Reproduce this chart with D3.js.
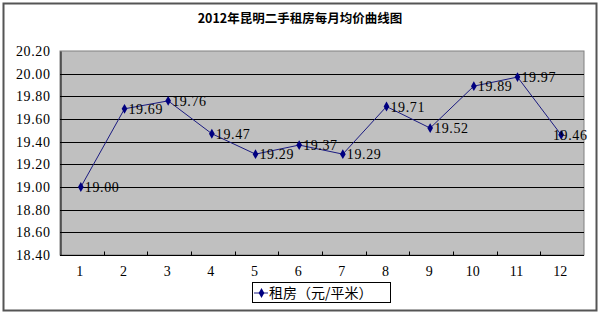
<!DOCTYPE html>
<html><head><meta charset="utf-8">
<script src="https://cdn.jsdelivr.net/npm/d3@7"></script>
<style>body{margin:0;background:#fff}svg{display:block}</style>
</head><body>
<svg id="c" width="600" height="312"></svg>
<script>
const title = "2012年昆明二手租房每月均价曲线图";
const seriesName = "租房（元/平米）";
const months = ["1","2","3","4","5","6","7","8","9","10","11","12"];
const rent = [19.00, 19.69, 19.76, 19.47, 19.29, 19.37, 19.29, 19.71, 19.52, 19.89, 19.97, 19.46];
const yTicks = [18.40, 18.60, 18.80, 19.00, 19.20, 19.40, 19.60, 19.80, 20.00, 20.20];

const svg = d3.select("#c");
const P = {l: 60, r: 584, t: 51, b: 255};
const numFont = "'Liberation Serif', serif";

// outer chart frame
svg.append("rect").attr("x", 3.5).attr("y", 3.5).attr("width", 593).attr("height", 307)
  .attr("fill", "#fff").attr("stroke", "#555").attr("stroke-width", 2);

svg.append("text").attr("x", 300).attr("y", 23).attr("text-anchor", "middle")
  .attr("font-family", "'Noto Sans CJK SC', sans-serif").attr("font-weight", "bold")
  .attr("font-size", 12.5).attr("fill", "#000").text(title);

const x = d3.scaleBand().domain(months).range([P.l, P.r]);
const y = d3.scaleLinear().domain([18.4, 20.2]).range([P.b, P.t]);

// plot background
svg.append("rect").attr("x", P.l).attr("y", P.t).attr("width", P.r - P.l).attr("height", P.b - P.t)
  .attr("fill", "#c0c0c0").attr("stroke", "#808080").attr("stroke-width", 1);

// gridlines
svg.append("g").selectAll("line").data(yTicks.filter(v => v > 18.41 && v < 20.19)).join("line")
  .attr("x1", P.l).attr("x2", P.r)
  .attr("y1", d => Math.round(y(d)) + 0.5).attr("y2", d => Math.round(y(d)) + 0.5)
  .attr("stroke", "#000").attr("stroke-width", 1);

// y axis
const yAxis = svg.append("g").attr("transform", `translate(${P.l + 0.5},0)`)
  .call(d3.axisLeft(y).tickValues(yTicks).tickFormat(d3.format(".2f")).tickSize(0).tickPadding(10));
yAxis.select(".domain").attr("stroke", "#000");
yAxis.selectAll("text").attr("font-family", numFont).attr("font-size", 14)
  .attr("letter-spacing", 0.6).attr("fill", "#000");

// x axis with inward ticks at category boundaries
const xAxisG = svg.append("g").attr("transform", `translate(0,${P.b + 0.5})`);
xAxisG.append("line").attr("x1", P.l).attr("x2", P.r).attr("stroke", "#000");
xAxisG.selectAll("line.tk").data(months.slice(1)).join("line").attr("class", "tk")
  .attr("x1", d => Math.round(x(d)) + 0.5).attr("x2", d => Math.round(x(d)) + 0.5)
  .attr("y1", -4).attr("y2", 0).attr("stroke", "#000");
xAxisG.selectAll("text").data(months).join("text")
  .attr("x", d => x(d) + x.bandwidth() / 2 - 2).attr("y", 20).attr("text-anchor", "middle")
  .attr("font-family", numFont).attr("font-size", 14).attr("fill", "#000").text(d => d);

// line
const cx = (d, i) => x(months[i]) + x.bandwidth() / 2 - 1;
const line = d3.line().x((d, i) => cx(d, i)).y(d => y(d));
svg.append("path").datum(rent).attr("d", line).attr("fill", "none")
  .attr("stroke", "#1a1a80").attr("stroke-width", 1);

const diamond = d3.symbol().type(d3.symbolDiamond).size(28);
svg.append("g").selectAll("path").data(rent).join("path")
  .attr("transform", (d, i) => `translate(${cx(d, i)},${y(d)})`)
  .attr("d", diamond).attr("fill", "#000080");

// data labels
const labW = 34;
svg.append("g").selectAll("text").data(rent).join("text")
  .attr("x", (d, i) => Math.min(cx(d, i) + 4, P.r + 3 - labW))
  .attr("y", d => y(d) + 5)
  .attr("font-family", numFont).attr("font-size", 14).attr("letter-spacing", 0.6)
  .attr("fill", "#000").text(d => d.toFixed(2));

// legend
const lg = svg.append("g");
lg.append("rect").attr("x", 252.5).attr("y", 282.5).attr("width", 138).attr("height", 20)
  .attr("fill", "#fff").attr("stroke", "#000");
lg.append("line").attr("x1", 254).attr("x2", 268).attr("y1", 293).attr("y2", 293)
  .attr("stroke", "#1a1a80");
lg.append("path").attr("transform", "translate(261.5,293)").attr("d", diamond).attr("fill", "#000080");
lg.append("text").attr("x", 269).attr("y", 298)
  .attr("font-family", "'Noto Sans CJK SC', sans-serif").attr("font-size", 14).attr("fill", "#000")
  .text(seriesName);
</script>
</body></html>
